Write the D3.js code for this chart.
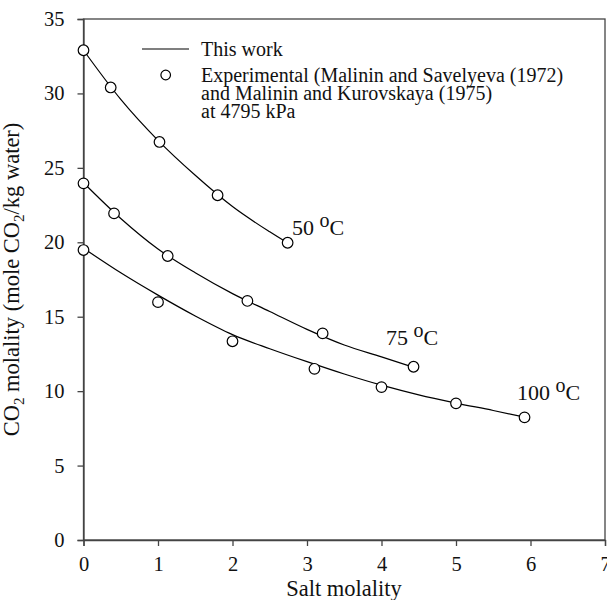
<!DOCTYPE html>
<html>
<head>
<meta charset="utf-8">
<script src="https://cdn.jsdelivr.net/npm/d3@7"></script>
<style>
  body { margin: 0; background: #fff; }
  svg text { font-family: "Liberation Serif", "Times New Roman", serif; fill: #111; }
</style>
</head>
<body>
<svg width="607" height="600"></svg>
<script>
// experimental points (salt molality, CO2 molality)
const exp50x = [0, 0.365, 1.02, 1.8, 2.74];
const exp50y = [32.9, 30.4, 26.74, 23.16, 19.97];
const exp75x = [0, 0.41, 1.13, 2.2, 3.21, 4.43];
const exp75y = [23.96, 21.94, 19.08, 16.06, 13.88, 11.64];
const exp100x = [0, 1.0, 2.0, 3.1, 4.0, 5.0, 5.92];
const exp100y = [19.48, 15.98, 13.35, 11.5, 10.27, 9.18, 8.24];

// model curves ("This work")
const fit50x = [0, 0.5, 1, 1.5, 2, 2.5, 2.74];
const fit50y = [32.9, 29.6, 26.85, 24.5, 22.4, 20.7, 19.95];
const fit75x = [0, 0.5, 1, 1.5, 2, 2.5, 3, 3.5, 4, 4.43];
const fit75y = [24.0, 21.6, 19.55, 17.95, 16.55, 15.35, 14.15, 13.1, 12.3, 11.6];
const fit100x = [0, 0.5, 1, 1.5, 2, 2.5, 3, 3.5, 4, 4.5, 5, 5.5, 5.92];
const fit100y = [19.6, 17.95, 16.45, 15.05, 13.8, 12.85, 11.98, 11.15, 10.4, 9.75, 9.2, 8.7, 8.25];

const xTicks = [0, 1, 2, 3, 4, 5, 6, 7];
const yTicks = [0, 5, 10, 15, 20, 25, 30, 35];

const svg = d3.select("svg");
const margin = {left: 83.5, top: 19, right: 2, bottom: 60};
const width = 607, height = 600;

const x = d3.scaleLinear().domain([0, 7]).range([margin.left, width - margin.right]);
const y = d3.scaleLinear().domain([0, 35]).range([height - margin.bottom, margin.top]);

const axisColor = "#444";

// frame
svg.append("rect")
  .attr("x", x(0)).attr("y", y(35))
  .attr("width", x(7) - x(0)).attr("height", y(0) - y(35))
  .attr("fill", "none").attr("stroke", axisColor).attr("stroke-width", 1.3);

const xAxis = svg.append("g")
  .attr("transform", `translate(0,${y(0)})`)
  .call(d3.axisBottom(x).tickValues(xTicks).tickSize(6).tickPadding(10).tickFormat(d3.format("d")));
const yAxis = svg.append("g")
  .attr("transform", `translate(${x(0)},0)`)
  .call(d3.axisLeft(y).tickValues(yTicks).tickSize(6).tickPadding(13).tickFormat(d3.format("d")));

[xAxis, yAxis].forEach(g => {
  g.select(".domain").attr("stroke", axisColor).attr("stroke-width", 1.3);
  g.selectAll(".tick line").attr("stroke", axisColor).attr("stroke-width", 1.3);
  g.selectAll(".tick text").style("font-family", "Liberation Serif, serif").style("font-size", "20.5px").attr("fill", "#111");
});

// curves
const line = d3.line().x(d => x(d[0])).y(d => y(d[1])).curve(d3.curveMonotoneX);
const fits = [[fit50x, fit50y], [fit75x, fit75y], [fit100x, fit100y]];
fits.forEach(([xs, ys]) => {
  svg.append("path")
    .datum(xs.map((v, i) => [v, ys[i]]))
    .attr("d", line)
    .attr("fill", "none").attr("stroke", "#000").attr("stroke-width", 1.2);
});

// points
const exps = [[exp50x, exp50y], [exp75x, exp75y], [exp100x, exp100y]];
exps.forEach(([xs, ys]) => {
  svg.append("g").selectAll("circle")
    .data(xs.map((v, i) => [v, ys[i]]))
    .enter().append("circle")
    .attr("cx", d => x(d[0])).attr("cy", d => y(d[1]))
    .attr("r", 5.3)
    .attr("fill", "#fff").attr("stroke", "#000").attr("stroke-width", 1.2);
});

// temperature labels
function tempLabel(px, py, num) {
  const t = svg.append("text").attr("x", px).attr("y", py).style("font-size", "22px");
  t.append("tspan").text(num + " ");
  t.append("tspan").attr("dy", -8).style("font-size", "20px").text("o");
  t.append("tspan").attr("dy", 8).text("C");
}
tempLabel(292, 235, "50");
tempLabel(386, 345, "75");
tempLabel(517, 400, "100");

// legend
svg.append("line").attr("x1", 142).attr("x2", 189).attr("y1", 49).attr("y2", 49)
  .attr("stroke", "#000").attr("stroke-width", 1.2);
svg.append("circle").attr("cx", 165.7).attr("cy", 75).attr("r", 4.8)
  .attr("fill", "#fff").attr("stroke", "#000").attr("stroke-width", 1.2);
const legendLines = ["This work", "Experimental (Malinin and Savelyeva (1972)", "and Malinin and Kurovskaya (1975)", "at 4795 kPa"];
const legendY = [55.5, 81.5, 99.5, 117.5];
legendLines.forEach((s, i) => {
  svg.append("text").attr("x", 201).attr("y", legendY[i]).style("font-size", "20px").text(s);
});

// axis titles
svg.append("text").attr("x", 344).attr("y", 596).attr("text-anchor", "middle")
  .style("font-size", "22.5px").text("Salt molality");

const yt = svg.append("text")
  .attr("transform", `translate(19,${(y(0) + y(35)) / 2}) rotate(-90)`)
  .attr("text-anchor", "middle").style("font-size", "22.5px");
yt.append("tspan").text("CO");
yt.append("tspan").attr("dy", 5).style("font-size", "15px").text("2");
yt.append("tspan").attr("dy", -5).text(" molality (mole CO");
yt.append("tspan").attr("dy", 5).style("font-size", "15px").text("2");
yt.append("tspan").attr("dy", -5).text("/kg water)");
</script>
</body>
</html>
